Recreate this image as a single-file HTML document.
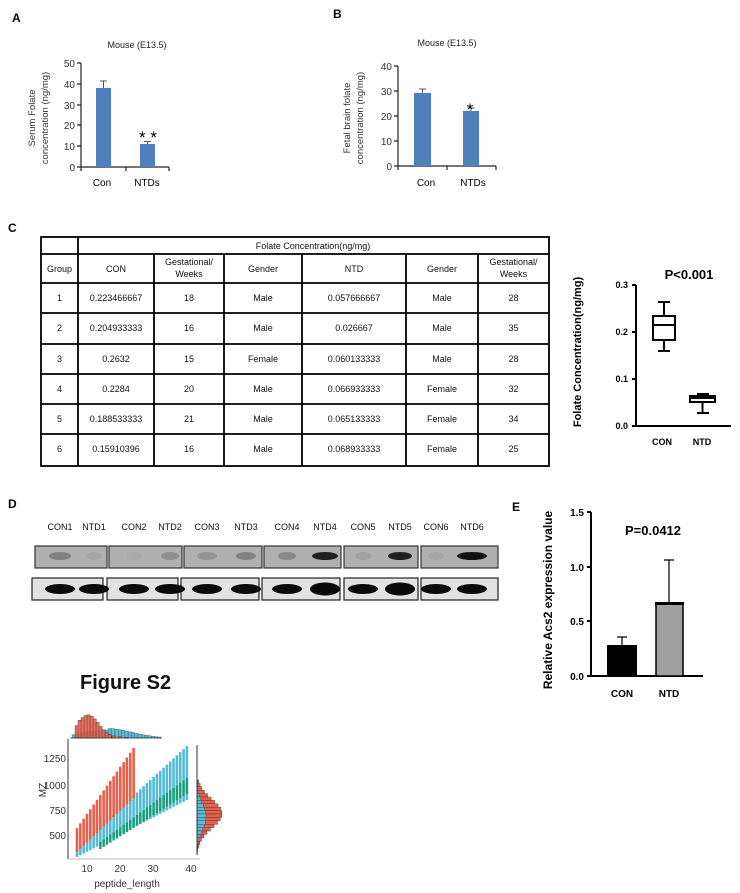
<!DOCTYPE html>
<html><head><meta charset="utf-8"><style>
html,body{margin:0;padding:0;background:#fff;}
svg{display:block;font-family:"Liberation Sans",Arial,sans-serif;}
</style></head><body>
<svg id="s" width="740" height="893" viewBox="0 0 740 893" xmlns="http://www.w3.org/2000/svg">
<rect width="740" height="893" fill="#fff"/>
<text x="12" y="22" font-size="12" font-weight="bold">A</text>
<text x="137" y="48" font-size="9" text-anchor="middle" fill="#222">Mouse (E13.5)</text>
<g stroke="#222" stroke-width="1.2" fill="none">
<path d="M81 63V167H169M81 63h-4M81 84h-4M81 105h-4M81 125h-4M81 146h-4M81 167h-4M126 167v4M169 167v4M81 167v4"/>
</g>
<g font-size="10" fill="#333" text-anchor="end">
<text x="75" y="67">50</text><text x="75" y="88">40</text><text x="75" y="109">30</text><text x="75" y="129">20</text><text x="75" y="150">10</text><text x="75" y="171">0</text></g>
<rect x="96" y="88" width="15" height="79" fill="#4f7fbd"/>
<rect x="140" y="144" width="15" height="23" fill="#4f7fbd"/>
<path d="M103.5 88V81M100 81h7M147.5 144v-2.5M144 141.5h7" stroke="#555" stroke-width="1"/>
<text x="148" y="143" font-size="17" text-anchor="middle">* *</text>
<text x="102" y="186" font-size="10" text-anchor="middle">Con</text>
<text x="147" y="186" font-size="10" text-anchor="middle">NTDs</text>
<text transform="translate(35,118) rotate(-90)" font-size="9.5" text-anchor="middle" fill="#333">Serum Folate</text>
<text transform="translate(48,118) rotate(-90)" font-size="9.5" text-anchor="middle" fill="#333">concentration (ng/mg)</text>
<text x="333" y="18" font-size="12" font-weight="bold">B</text>
<text x="447" y="46" font-size="9" text-anchor="middle" fill="#222">Mouse (E13.5)</text>
<g stroke="#222" stroke-width="1.2" fill="none">
<path d="M398 66V166H496M398 66h-4M398 91h-4M398 116h-4M398 141h-4M398 166h-4M398 166v4M447 166v4M496 166v4"/>
</g>
<g font-size="10" fill="#333" text-anchor="end">
<text x="392" y="70">40</text><text x="392" y="95">30</text><text x="392" y="120">20</text><text x="392" y="145">10</text><text x="392" y="170">0</text></g>
<rect x="414" y="93" width="17" height="73" fill="#4f7fbd"/>
<rect x="463" y="111" width="16" height="55" fill="#4f7fbd"/>
<path d="M422.5 93v-4M419 89h7M471 111v-3M467.5 108h7" stroke="#555" stroke-width="1"/>
<text x="470" y="115" font-size="17" text-anchor="middle">*</text>
<text x="426" y="186" font-size="10" text-anchor="middle">Con</text>
<text x="473" y="186" font-size="10" text-anchor="middle">NTDs</text>
<text transform="translate(350,118) rotate(-90)" font-size="9.5" text-anchor="middle" fill="#333">Fetal brain folate</text>
<text transform="translate(363,118) rotate(-90)" font-size="9.5" text-anchor="middle" fill="#333">concentration (ng/mg)</text>
<text x="8" y="232" font-size="12" font-weight="bold">C</text>
<g id="tbl" stroke="#000" stroke-width="1.8" fill="none">
<rect x="41" y="237" width="508" height="229"/>
<path d="M78 237V466M41 254H549M154 254V466M224 254V466M302 254V466M406 254V466M478 254V466M41 283H549M41 313H549M41 344H549M41 374H549M41 404H549M41 434H549"/>
</g>
<g font-size="9" text-anchor="middle" fill="#111" id="tt"></g>
<text transform="translate(581,352) rotate(-90)" font-size="11" font-weight="bold" text-anchor="middle">Folate Concentration(ng/mg)</text>
<text x="689" y="279" font-size="13" font-weight="bold" text-anchor="middle">P&lt;0.001</text>
<g stroke="#000" stroke-width="2" fill="none">
<path d="M636 285V426H731M636 285h-4M636 332h-4M636 379h-4M636 426h-4"/>
<rect x="653" y="316" width="22" height="24"/><path d="M653 325h22M664 316v-14M658 302h12M664 340v11M658 351h12"/>
<rect x="690" y="396" width="25" height="6"/><path d="M690 398h25M702.5 396v-2M697 394h12M702.5 402v11M697 413h12"/>
</g>
<g font-size="9" font-weight="bold" text-anchor="end"><text x="628" y="288">0.3</text><text x="628" y="335">0.2</text><text x="628" y="382">0.1</text><text x="628" y="429">0.0</text></g>
<text x="662" y="445" font-size="9" font-weight="bold" text-anchor="middle">CON</text>
<text x="702" y="445" font-size="9" font-weight="bold" text-anchor="middle">NTD</text>
<text x="8" y="508" font-size="12" font-weight="bold">D</text>
<g id="blot"></g>
<text x="512" y="511" font-size="12" font-weight="bold">E</text>
<text transform="translate(552,600) rotate(-90)" font-size="12" font-weight="bold" text-anchor="middle">Relative Acs2 expression value</text>
<text x="653" y="535" font-size="13" font-weight="bold" text-anchor="middle">P=0.0412</text>
<g stroke="#000" stroke-width="2" fill="none"><path d="M591 512V676H703M591 512h-4M591 567h-4M591 621h-4M591 676h-4"/></g>
<g font-size="10" font-weight="bold" text-anchor="end"><text x="584" y="516">1.5</text><text x="584" y="571">1.0</text><text x="584" y="625">0.5</text><text x="584" y="680">0.0</text></g>
<path d="M622 645v-8M617 637h10M669 603v-43M664 560h10" stroke="#000" stroke-width="1.2"/>
<rect x="607" y="645" width="30" height="31" fill="#000"/>
<rect x="656" y="604" width="27" height="72" fill="#a0a0a0" stroke="#000" stroke-width="1.5"/>
<rect x="655" y="602" width="29" height="3" fill="#000"/>
<text x="622" y="697" font-size="10" font-weight="bold" text-anchor="middle">CON</text>
<text x="669" y="697" font-size="10" font-weight="bold" text-anchor="middle">NTD</text>
<text x="80" y="689" font-size="20" font-weight="bold" fill="#111">Figure S2</text>
<g id="sc"></g>
<path d="M68 739V859" stroke="#333" stroke-width="1"/>
<path d="M68 859H200" stroke="#bbb" stroke-width="1"/>
<path d="M197 745V855" stroke="#333" stroke-width="1"/>
<g font-size="10" fill="#333" text-anchor="end"><text x="66" y="762">1250</text><text x="66" y="789">1000</text><text x="66" y="814">750</text><text x="66" y="839">500</text></g>
<g font-size="10" fill="#333" text-anchor="middle"><text x="87" y="872">10</text><text x="120" y="872">20</text><text x="153" y="872">30</text><text x="191" y="872">40</text></g>
<text x="127" y="887" font-size="10" text-anchor="middle" fill="#333">peptide_length</text>
<text transform="translate(46,790) rotate(-90)" font-size="10" text-anchor="middle" fill="#333">MZ</text>
<script>
var NS="http://www.w3.org/2000/svg";
function el(p,t,a,txt){var e=document.createElementNS(NS,t);for(var k in a)e.setAttribute(k,a[k]);if(txt!=null)e.textContent=txt;p.appendChild(e);return e;}
var tt=document.getElementById('tt');
var cx=[59.5,116,189,263,354,442,513.5];
el(tt,'text',{x:313,y:249},'Folate Concentration(ng/mg)');
var h=['Group','CON','','Gender','NTD','Gender',''];
h.forEach(function(t,i){if(t)el(tt,'text',{x:cx[i],y:272},t);});
[2,6].forEach(function(i){el(tt,'text',{x:cx[i],y:265},'Gestational/');el(tt,'text',{x:cx[i],y:277},'Weeks');});
var rows=[['1','0.223466667','18','Male','0.057666667','Male','28'],['2','0.204933333','16','Male','0.026667','Male','35'],['3','0.2632','15','Female','0.060133333','Male','28'],['4','0.2284','20','Male','0.066933333','Female','32'],['5','0.188533333','21','Male','0.065133333','Female','34'],['6','0.15910396','16','Male','0.068933333','Female','25']];
var ry=[301,331,362,392,422,452];
rows.forEach(function(r,j){r.forEach(function(t,i){el(tt,'text',{x:cx[i],y:ry[j]},t);});});
var b=document.getElementById('blot');
var labs=['CON1','NTD1','CON2','NTD2','CON3','NTD3','CON4','NTD4','CON5','NTD5','CON6','NTD6'];
var lc=[60,94,134,170,207,246,287,325,363,400,436,472];
labs.forEach(function(t,i){el(b,'text',{x:lc[i],y:530,'font-size':9,'text-anchor':'middle',fill:'#111'},t);});
var s1=[[35,107],[109,182],[184,262],[264,341],[344,418],[421,498]];
var s2=[[32,103],[107,178],[181,259],[262,340],[344,418],[421,498]];
s1.forEach(function(s){el(b,'rect',{x:s[0],y:546,width:s[1]-s[0],height:22,fill:'#b0b0b0',stroke:'#333','stroke-width':1.2});});
s2.forEach(function(s){el(b,'rect',{x:s[0],y:578,width:s[1]-s[0],height:22,fill:'#e2e2e2',stroke:'#222','stroke-width':1.2});});
var op1=[0.3,0.06,0.04,0.2,0.18,0.3,0.25,0.9,0.1,0.9,0.06,1];
var w1=[22,16,16,18,20,20,18,26,16,24,16,30];
lc.forEach(function(c,i){el(b,'ellipse',{cx:c,cy:556,rx:w1[i]/2,ry:4,fill:'#111','fill-opacity':op1[i]});
el(b,'ellipse',{cx:c,cy:589,rx:15,ry:(i==7||i==9)?6.5:5,fill:'#0a0a0a'});});
var sc=document.getElementById('sc');
function X(L){return 87+(L-10)*3.33;}
function lin(a,b,t){return a+(b-a)*t;}
for(var x=72;x<160;x+=3.3){var d=(x-105)/25;var hh=8*Math.exp(-d*d/2)*(x<105?1:1.2);el(sc,'rect',{x:x,y:738-hh,width:3.3,height:hh,fill:'#56bcd6',stroke:'#333','stroke-width':0.3});}
var topH=[[72,0],[75,18],[78,26],[81,30],[84,33],[87,34],[90,32],[93,28],[96,23],[99,17],[102,12],[105,8],[108,5],[112,3],[118,2],[125,1]];
topH.forEach(function(p){el(sc,'rect',{x:p[0],y:738-p[1]*0.68,width:3.2,height:p[1]*0.68,fill:'#e8604c',stroke:'#333','stroke-width':0.4,'fill-opacity':0.9});});
el(sc,'path',{d:'M70 738H162',stroke:'#333','stroke-width':0.8});
for(var y=780;y<848;y+=3.4){var d=(y-812)/14;var w=25*Math.exp(-d*d/2);el(sc,'rect',{x:197,y:y,width:w,height:3.4,fill:'#e8604c',stroke:'#333','stroke-width':0.4});
var d2=(y-815)/13;var w2=9*Math.exp(-d2*d2/2);el(sc,'rect',{x:197,y:y,width:w2,height:3.4,fill:'#56bcd6',stroke:'#333','stroke-width':0.3});}
for(var L=7;L<=40;L++){var t=(L-7)/33;var y0=lin(848,746,t),y1=lin(857,800,t);el(sc,'rect',{x:X(L)-1.3,y:y0,width:2.6,height:y1-y0,fill:'#56bcd6'});}
for(var L=14;L<=40;L++){var t=(L-14)/26;var y0=lin(842,778,t),y1=lin(849,794,t);el(sc,'rect',{x:X(L)-1.2,y:y0,width:2.4,height:y1-y0,fill:'#1a9e77'});}
for(var L=7;L<=24;L++){var t=(L-7)/17;var y0=lin(828,748,t),y1=lin(852,798,t);el(sc,'rect',{x:X(L)-1.3,y:y0,width:2.6,height:y1-y0,fill:'#e8604c'});}
</script>
</svg>
</body></html>
